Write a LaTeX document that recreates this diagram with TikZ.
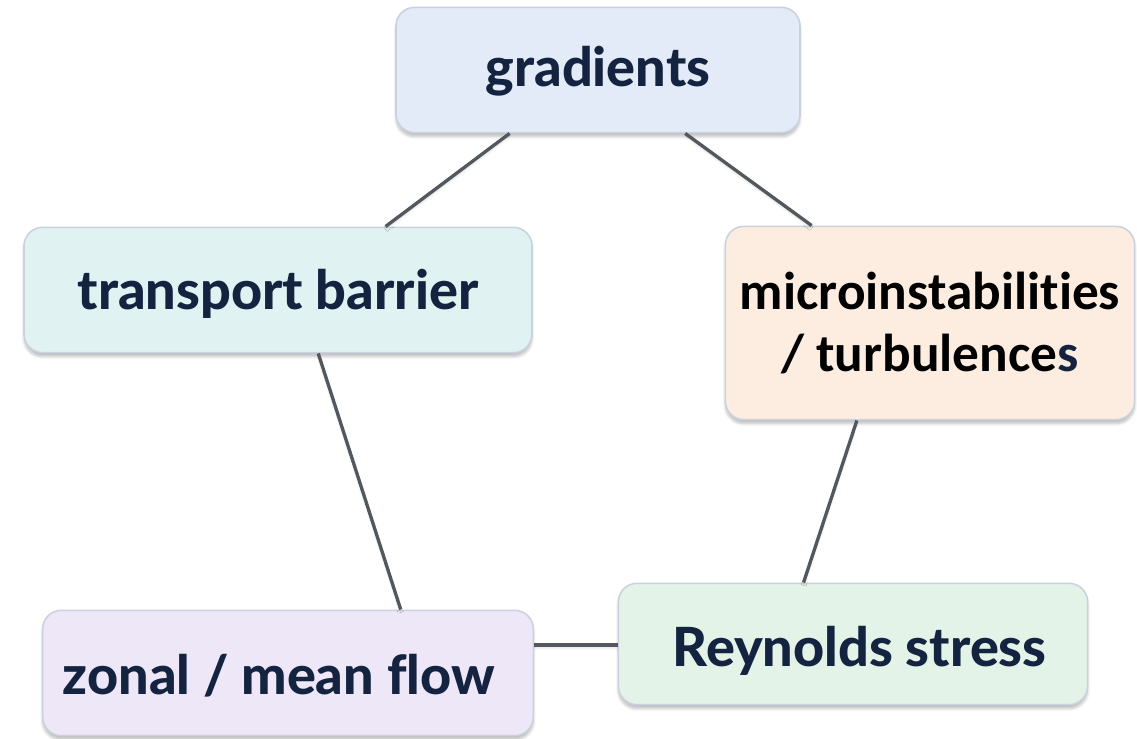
\documentclass[tikz,border=0pt]{standalone}
\usepackage{fontspec}
\setmainfont{Lato}[BoldFont={Lato Heavy}, Ligatures=NoCommon]
\newfontfamily\calibri{Carlito}[Ligatures=NoCommon]
\usetikzlibrary{positioning, calc, shadows.blur}

\definecolor{navy}{HTML}{14233F}
\definecolor{edgegray}{HTML}{53575E}
\definecolor{boxline}{HTML}{C9D2DE}
\definecolor{gradfill}{HTML}{E2EBF7}
\definecolor{barrierfill}{HTML}{E0F3F2}
\definecolor{microfill}{HTML}{FDEDE0}
\definecolor{reynfill}{HTML}{E3F3E7}
\definecolor{zonalfill}{HTML}{EDE7F8}

% invisible strut that pushes a label a little lower in its box
\newcommand{\lowerby}[1]{\rule{0pt}{#1}}

\begin{document}
\begin{tikzpicture}[
  x=0.75pt, y=-0.75pt,
  box/.style={rectangle, rounded corners=14pt, draw=boxline, line width=1.2pt,
    align=center, text=navy, font=\fontsize{40.5}{47}\selectfont\bfseries,
    blur shadow={shadow xshift=0pt, shadow yshift=-3pt, shadow blur steps=6, shadow opacity=25}},
  link/.style={edgegray, line width=2.5pt,
    blur shadow={shadow xshift=0pt, shadow yshift=-2pt, shadow blur steps=4, shadow opacity=15}}
]
\useasboundingbox (0,0) rectangle (1137,738);

% the five boxes of the cycle
\node[box, fill=gradfill, minimum width=303pt, minimum height=94pt] (grad) at (598,70) {\lowerby{32pt}gradients};
\node[box, fill=barrierfill, minimum width=381pt, minimum height=94pt] (barrier) at (278,290) {\lowerby{36pt}transport barrier};
\node[box, fill=microfill, minimum width=307pt, minimum height=145pt, text=black,
  font=\fontsize{40}{47}\selectfont\calibri\bfseries] (micro) at (930,323)
  {microinstabilities\\/ turbulence\textcolor{navy}{s}};
\node[box, fill=reynfill, minimum width=352pt, minimum height=91pt] (reyn) at (853,644) {\hspace*{10pt}\lowerby{40pt}Reynolds stress};
\node[box, fill=zonalfill, minimum width=368pt, minimum height=94pt] (zonal) at (288,673) {\lowerby{34pt}zonal / mean flow\hspace*{14pt}};

% connectors between the boxes
\draw[link] ($(grad.south west)!0.282!(grad.south east)$) -- ($(barrier.north west)!0.711!(barrier.north east)$);
\draw[link] ($(grad.south west)!0.715!(grad.south east)$) -- ($(micro.north west)!0.212!(micro.north east)$);
\draw[link] ($(barrier.south west)!0.579!(barrier.south east)$) -- ($(zonal.north west)!0.729!(zonal.north east)$);
\draw[link] ($(micro.south west)!0.322!(micro.south east)$) -- ($(reyn.north west)!0.395!(reyn.north east)$);
\draw[link] ($(zonal.north east)!0.28!(zonal.south east)$) coordinate (zr) -- (zr -| reyn.west);

\end{tikzpicture}
\end{document}
